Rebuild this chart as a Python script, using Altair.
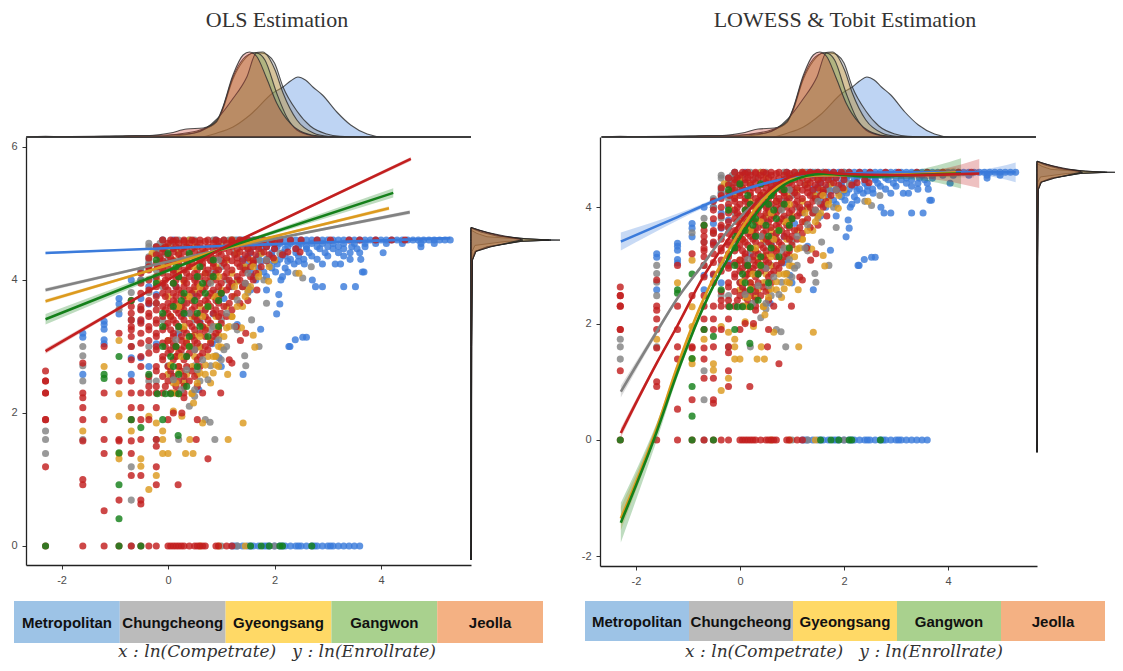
import altair as alt
import pandas as pd

GROUPS = ["Metropolitan", "Chungcheong", "Gyeongsang", "Gangwon", "Jeolla"]
LINE_COLORS = ["#3B7BDB", "#828282", "#DC9A1E", "#14801A", "#C21F1F"]
DENSITY_COLORS = ["#3B7BDB", "#828282", "#DCA028", "#64964A", "#CD3C2D"]
LEGEND_COLORS = ["#9DC3E6", "#BBBBBB", "#FFD966", "#A9D18E", "#F4B183"]

# ---------- scatter points, rows of y -> x values ----------
METRO_ROWS = {
 4.6: [-.1,.1,.4,.9,1.2,1.3,1.4,1.5,1.6,1.7,1.8,1.9,2.0,2.1,2.2,2.3,2.4,2.5,2.6,2.7,2.8,2.9,3.0,3.1,3.2,3.3,3.4,3.5,3.6,3.7,3.8,3.9,4.0,4.1,4.2,4.3,4.4,4.5,4.6,4.7,4.8,4.9,5.0,5.1,5.2,5.3],
 4.55: [1.4,1.7,1.9,2.1,2.3,2.5,2.7,2.9,3.1,3.3,3.5,3.7,3.9,4.1,4.4,4.75,5.0],
 4.5: [-.22,1.6,1.85,2.05,2.25,2.45,2.6,2.8,3.0,3.2,3.45,3.7,4.75],
 4.47: [1.5,1.75,2.0,2.2,2.4,2.6,2.85,3.1,3.3,3.55],
 4.41: [-.22,.2,1.55,1.75,1.95,2.15,2.4,2.65,2.95,3.2,3.42,3.6,4.04],
 4.36: [1.5,1.7,1.95,2.2,2.45,2.7,3.0,3.3],
 4.31: [1.4,1.65,1.85,2.1,2.3,2.55,2.8,3.62,3.42],
 4.28: [1.5,1.75,2.0,2.25,2.45],
 4.24: [-.36,1.6,1.9,2.05,2.37,2.56,2.9,3.14,3.24],
 4.18: [1.45,1.7,1.95,2.2],
 4.12: [-.51,.9,1.55,1.8,2.02,2.25,3.65,3.68],
 4.05: [1.6,1.85,2.15],
 4.0: [-.69,-.51,-.22,1.3,1.65,2.12,2.71],
 3.9: [-.36,.15,1.2,1.5,2.77,2.9,3.3,3.52],
 3.85: [1.55,1.85],
 3.78: [-.22,.5,2.08],
 3.72: [-.92,-.51,1.05],
 3.64: [-.92,-.36,2.1],
 3.49: [-.92,.3,.85,2.04],
 3.38: [-1.2,-.51,.6],
 3.33: [-1.2,1.3],
 3.26: [-1.2,1.74],
 3.2: [-1.6,.2],
 3.14: [-1.6,2.6,2.53],
 3.1: [-1.2,2.39,.9],
 3.04: [-1.2,-.22,.83],
 3.0: [2.29,2.27],
 2.83: [-.69,-.51,.96],
 2.7: [-.36,1.0],
 2.58: [-1.6,-.69,.05,1.41],
 2.35: [.58],
 0: [1.2,1.25,1.3,1.4,1.5,1.55,1.6,1.7,1.8,1.85,1.9,2.0,2.1,2.15,2.2,2.3,2.4,2.45,2.5,2.6,2.7,2.75,2.8,2.9,3.0,3.05,3.1,3.2,3.3,3.4,3.5,3.6],
}
CHUNG_ROWS = {
 4.6: [-.1,.2,.5,.85,1.05,1.15,1.25,1.35,1.45,1.6,2.0],
 4.55: [-.36,-.15,.05,1.0,1.2],
 4.5: [-.36,-.22,-.1,.3,.9,1.7],
 4.45: [-.22,0],
 4.4: [-.22,-.05,.6,1.25,2.1],
 4.35: [-.36,-.15],
 4.3: [-.36,0,.8,1.7],
 4.25: [-.36,-.1],
 4.2: [-.36,.4,1.0,1.4,2.69],
 4.15: [-.51,-.22],
 4.1: [.15,.8,2.4],
 4.03: [.5,2.53],
 4.0: [-.51,.3,1.1,1.8],
 3.9: [-.1,.6,1.4],
 3.81: [-.69,-.36,.9,1.5],
 3.65: [-.22,.3,1.85],
 3.56: [-.92,-.51,.7],
 3.4: [-.69,-.1,.5,1.0,1.57],
 3.25: [.2,.8,1.3],
 3.0: [-1.6,-.69,-.36,.1,.6,1.1,1.71],
 2.86: [-1.6,.3,.9,1.44],
 2.71: [-1.6,0,.5,.8,1.46],
 2.48: [-1.6,-.36,-.22,.3,.6],
 2.25: [.5],
 2.1: [.4],
 1.9: [.7],
 1.86: [.79],
 1.73: [-2.3],
 1.6: [-2.3,-1.6,-.22,.2,.88],
 1.39: [-2.3],
 1.19: [-.69],
 .69: [-.69],
 0: [-.69,1.0,1.3,2.0],
}
CHUNG_ON_TOP = {
 4.3: [.95,1.85],
 4.1: [1.5],
 3.95: [1.45,.8],
 3.7: [1.3],
 3.5: [1.1,.4],
 3.3: [1.25,.85],
 3.1: [.95,.15],
 2.95: [1.05,.5],
 2.8: [.65,1.0],
 2.65: [.55,.35],
 2.5: [.75,.1],
 2.35: [.5,.25],
}
GYEONG_ROWS = {
 4.6: [.4,1.2],
 4.5: [0,.5,1.0,1.5],
 4.4: [-.3,.2,.7,1.3,1.75],
 4.3: [.1,.6,1.1,1.55,2.0],
 4.2: [-.1,.4,.9,1.45,1.9],
 4.1: [.2,.7,1.2,1.7,2.46],
 3.98: [-.2,.3,.8,1.3,1.89],
 3.85: [.5,1.0,1.5],
 3.75: [0,.35,.85,1.25],
 3.6: [.2,.6,1.1,1.4],
 3.45: [.05,.45,.9,1.2],
 3.28: [.25,.7,1.1,1.38],
 3.17: [.5,.95,1.6],
 3.09: [-.92,0,.35,.8],
 2.99: [.15,.6,1.0,1.63],
 2.85: [.15,.5,.75,.9],
 2.7: [-1.2,.2,.45,.95],
 2.58: [0,.35,.55,.7,1.12],
 2.45: [.1,.3,.8],
 2.29: [-.92,.2,.45],
 2.15: [.48],
 2.03: [.1],
 1.95: [-.92,-.36,.26],
 1.85: [-.22,.65,1.41],
 1.73: [-.69,-1.6,-.1],
 1.6: [-.1,.41,1.13],
 1.39: [-.92,-.1,0,.33,.47],
 1.31: [-.92,-.51],
 1.2: [-.51],
 1.06: [-.22],
 .85: [-.36],
 0: [.6,.95,1.45],
}
GYEONG_ON_TOP = {
 4.2: [1.6,.5],
 4.05: [1.7,.95],
 3.9: [1.55,1.25,.6],
 3.75: [1.45,.9,.4],
 3.6: [1.3,.75,.2],
 3.45: [1.2,.65],
 3.3: [1.15,.9,.3],
 3.15: [1.05,.6],
 3.0: [.95,.4],
 2.85: [.85,.25],
 2.72: [.7,.05,.9],
 2.6: [.6,.2,.85],
 2.45: [.55,.15],
 2.3: [.45,.1],
}
JEOLLA_ROWS = {
 4.6: [-.1,.05,.15,.3,.45,.6,.75,.9,1.05,1.2,1.35,1.5,1.65,1.8,1.95,2.1,2.3,2.5,2.8,3.05,3.4,3.6,3.9,4.2,4.45],
 4.58: [.1,.3,.5,.7,.95,1.2,1.45],
 4.55: [0,.2,.4,.6,.85,1.1,1.3,1.55,1.75,2.0],
 4.5: [-.22,-.05,.15,.35,.55,.75,.95,1.2,1.4,1.6,1.85],
 4.47: [-.1,.1,.25,.45,.65,.85,1.05,1.3,1.5,1.7,2.0,2.4],
 4.42: [-.1,.1,.3,.5,.7,.95,1.15,1.35,1.55,1.8,2.25,2.48],
 4.38: [-.22,0,.2,.4,.6,.8,1.0,1.25,1.45,1.65,1.9,2.15],
 4.33: [-.36,-.15,.05,.25,.5,.7,.9,1.1,1.3,1.5,1.98],
 4.29: [-.1,.1,.35,.6,.8,1.0,1.2,1.4,1.6,1.85],
 4.25: [-.22,0,.2,.45,.65,.85,1.05,1.3,1.6],
 4.2: [-.36,-.2,0,.2,.4,.65,.85,1.1,1.35,1.55,1.75],
 4.15: [-.36,-.1,.1,.3,.55,.75,.95,1.2,1.45],
 4.1: [-.51,-.1,.1,.35,.5,.7,.9,1.1,1.4,1.65],
 4.05: [-.22,0,.2,.4,.6,.8,1.05,1.3,1.55],
 4.0: [-.36,-.05,.15,.3,.5,.7,.9,1.15,1.35,1.6],
 3.95: [-.51,-.1,.1,.35,.55,.75,1.0,1.2,1.45],
 3.9: [-.22,-.05,.15,.3,.5,.7,.95,1.15,1.4],
 3.85: [-.36,0,.2,.4,.65,.85,1.1,1.67],
 3.8: [-.51,-.1,.1,.25,.45,.6,.8,1.0,1.3],
 3.75: [-.22,-.05,.15,.3,.55,.75,.95,1.2],
 3.69: [-.69,-.36,.1,.45,.7,.9,1.5],
 3.65: [-.36,-.22,0,.15,.35,.6,.75,.95,1.15,1.35],
 3.6: [-.69,-.51,-.1,.05,.25,.5,.8,1.05],
 3.55: [-.51,-.22,-.05,.15,.3,.45,.7,.9,1.2],
 3.5: [-.69,-.36,0,.2,.4,.6,.85,1.0],
 3.45: [-.36,-.1,.05,.25,.5,.7,.95,1.1],
 3.4: [-.69,-.51,-.22,.1,.3,.55,.75],
 3.35: [-.51,-.22,0,.15,.4,.6,.8,1.0],
 3.3: [-.69,-.36,-.05,.2,.45,.65,1.28],
 3.25: [-.69,-.36,-.1,.05,.3,.5,.7,.95],
 3.2: [-.92,-.51,-.22,.1,.35,.6,.9,1.46],
 3.15: [-.69,-.22,.1,.25,.45,.7,.85],
 3.09: [-.36,0,.25,.5,1.36],
 3.05: [-.51,-.1,.1,.35,.55,.8],
 3.0: [-1.2,-.69,-.22,-.05,.15,.3,.45,.7],
 2.95: [-.22,.05,.25,.5,.75],
 2.9: [-.36,0,.2,.4,.65],
 2.85: [-.51,-.1,.15,.35,.6],
 2.8: [-.69,-.1,.1,.3,.55,1.15],
 2.75: [-1.6,1.2],
 2.7: [-.51,-.22,0,.2,.35,.6],
 2.63: [-2.3,-.22,.05,.25,.45],
 2.55: [-.36,-.1,.1,.3,.5],
 2.48: [-2.3,-2.3,-.92,-.69,0,.2,.4],
 2.4: [-.36,-.22,-.05,.15,.3,.55],
 2.3: [-2.3,-2.3,-1.6,-1.2,-.69,-.51,-.36,-.22,-.1,.05,.15,.3,.65,.99],
 2.23: [-1.6,.3],
 2.08: [-1.6,-.69,-.51,-.22],
 2.0: [.26,.1],
 1.9: [-2.3,-2.3,-1.6,-1.2,-.69,-.51,-.36,.55,0],
 1.6: [-1.2,-.92,-.51,-.22,.53],
 1.58: [-.92,-.69,-1.6],
 1.5: [-.22],
 1.39: [-1.2,-.69],
 1.31: [.75],
 1.19: [-2.3,-.22],
 1.06: [-.69,-.51],
 1.0: [-1.6],
 .92: [-1.6,-.22,.19],
 .69: [-.92,-.51],
 .63: [-.51],
 .53: [-1.2],
 0: [-2.3,-1.6,-1.2,-.92,-.69,-.51,-.36,-.22,0,.05,.1,.15,.2,.25,.3,.4,.5,.55,.6,.65,.7,.9,.95,1.1,1.2],
}
GANGWON_ROWS = {
 4.4: [0,.4],
 4.3: [-.22,.85],
 4.2: [.15,.6],
 4.05: [.2,.55,.85],
 3.95: [-.22,.1,.65],
 3.8: [.3,.7,1.0],
 3.69: [-.69,.25,.5,.95],
 3.6: [.1,.75],
 3.5: [-.1,.55,.3],
 3.3: [-.1,.2,.6,.95],
 3.15: [.4,.75],
 3.0: [-.1,.15,.4],
 2.85: [-.92,.05,.35],
 2.7: [.1,.55],
 2.58: [-1.2,-.36,.2],
 2.52: [-1.2],
 2.4: [.35],
 2.29: [-.2,-.05,.05,.2],
 1.9: [-.69,-.1],
 1.78: [-.51],
 1.66: [.19],
 1.4: [-.92],
 .92: [-.92],
 .41: [-.92],
 0: [-2.3,-.92,-.51,1.55,1.75,1.9,2.1,2.15,2.7],
}

# ---------- marginal densities (x value, height) ----------
TOP_METRO = [(-2.66,0),(.6,0),(.92,4),(1.22,10),(1.54,22),(1.97,44),(2.16,50),(2.3,56),(2.44,60),(2.58,57),(2.72,50),(2.9,42),(3.17,25),(3.43,12),(3.74,3),(4.05,0),(5.69,0)]
TOP_CHUNG = [(-2.66,0),(-.2,0),(.3,2),(.6,6),(.91,15),(1.01,25),(1.22,58),(1.41,76),(1.6,84),(1.75,84),(1.87,82),(2.0,74),(2.16,50),(2.42,26),(2.67,11),(2.98,3),(3.23,.7),(3.6,0),(5.69,0)]
TOP_GYEONG = [(-2.66,0),(-.3,0),(.2,3),(.6,7),(.91,15),(1.01,26),(1.22,60),(1.41,78),(1.6,84),(1.78,85),(2.01,67),(2.16,44),(2.42,17),(2.73,4),(3.0,.7),(3.3,0),(5.69,0)]
TOP_GANGWON = [(-2.66,0),(-1.0,1),(0,2),(.5,4),(.92,18),(1.2,37),(1.48,60),(1.66,84),(1.82,77),(2.04,44),(2.23,20),(2.42,7),(2.7,1.5),(3.0,0),(5.69,0)]
TOP_JEOLLA = [(-2.66,0),(-2.3,.6),(-2.0,.2),(-1.6,.5),(-1.2,.6),(-.9,1),(-.6,1.5),(-.34,1.5),(.04,4),(.35,8),(.66,9),(.91,16),(1.01,27),(1.22,62),(1.41,82),(1.53,85),(1.66,81),(1.85,59),(2.04,34),(2.29,14),(2.48,6),(2.79,1.3),(3.2,0),(5.69,0)]

SIDE_METRO = [(-.21,0),(0,.2),(3.0,.2),(4.43,1),(4.52,4),(4.58,35),(4.6,89),(4.62,45),(4.65,16),(4.7,6),(4.75,0)]
SIDE_CHUNG = [(-.21,0),(0,.4),(3.0,.5),(4.3,1.2),(4.43,4),(4.5,17),(4.58,50),(4.6,80),(4.62,55),(4.66,30),(4.72,15),(4.79,0)]
SIDE_GYEONG = [(-.21,0),(0,.4),(3.0,.5),(4.3,1.2),(4.43,4),(4.5,16),(4.58,50),(4.6,78),(4.62,55),(4.66,26),(4.72,10),(4.78,0)]
SIDE_GANGWON = [(-.21,0),(0,.5),(3.0,.8),(4.3,1.5),(4.43,5),(4.5,20),(4.57,44),(4.6,52),(4.62,46),(4.66,30),(4.71,16),(4.75,7),(4.79,0)]
SIDE_JEOLLA = [(-.21,0),(0,.5),(2.2,.5),(3.7,1),(4.3,1.5),(4.43,5),(4.5,20),(4.576,42),(4.6,50),(4.62,50),(4.66,34),(4.71,18),(4.75,8),(4.79,0)]

# ---------- OLS fits (x, y, half width of the interval) ----------
OLS_METRO = [(-2.3,4.406,.02),(1.0,4.51,.006),(5.3,4.63,.02)]
OLS_CHUNG = [(-2.3,3.85,.03),(1.0,4.46,.01),(4.54,5.02,.03)]
OLS_GYEONG = [(-2.3,3.68,.03),(1.0,4.46,.01),(4.15,5.08,.03)]
OLS_GANGWON = [(-2.3,3.41,.08),(1.0,4.46,.015),(4.23,5.31,.07)]
OLS_JEOLLA = [(-2.3,2.93,.04),(1.0,4.47,.01),(4.56,5.82,.03)]

# ---------- LOWESS fits (x, y, half width of the interval) ----------
LOW_METRO = [(-2.29,3.41,.155),(-1.2,3.83,.06),(-.64,4.05,.04),(0,4.28,.03),(.96,4.5,.02),(1.6,4.55,.02),(3.0,4.6,.02),(4.6,4.6,.05),(5.3,4.6,.17)]
LOW_CHUNG = [(-2.29,.83,.1),(-1.6,1.86,.05),(-1.22,2.41,.03),(-.7,3.03,.03),(-.19,3.64,.02),(.45,4.18,.02),(.96,4.47,.02),(1.6,4.55,.02),(3.0,4.55,.03),(4.5,4.57,.06)]
LOW_GYEONG = [(-2.29,-1.35,.2),(-1.6,.2,.08),(-1.21,1.25,.05),(-.7,2.42,.04),(-.19,3.3,.03),(.32,4.0,.03),(.96,4.47,.02),(1.6,4.55,.02),(2.5,4.55,.03),(4.15,4.6,.08)]
LOW_GANGWON = [(-2.29,-1.42,.34),(-1.6,.14,.15),(-1.21,1.14,.08),(-.7,2.29,.06),(-.19,3.18,.04),(.32,3.9,.04),(.96,4.44,.03),(1.6,4.57,.03),(2.5,4.53,.04),(3.0,4.54,.05),(3.8,4.57,.15),(4.25,4.58,.26)]
LOW_JEOLLA = [(-2.29,.12,.08),(-1.6,1.32,.04),(-1.21,1.95,.03),(-.7,2.81,.03),(-.19,3.49,.02),(.32,4.09,.02),(.96,4.52,.02),(1.47,4.61,.02),(2.0,4.57,.02),(3.0,4.55,.03),(3.9,4.56,.1),(4.6,4.58,.25)]

LEGEND_NAMES = GROUPS
TITLE_A = "OLS Estimation"
TITLE_B = "LOWESS & Tobit Estimation"
CAPTION = "x : ln(Competrate)\u00a0\u00a0\u00a0y : ln(Enrollrate)"

# ---------- tables ----------
def rows_table(pairs):
    out = []
    for g, rows in pairs:
        for y, xs in rows.items():
            for x in xs:
                out.append({"g": g, "x": x, "y": y})
    return pd.DataFrame(out)

def xy_table(pairs, a="x", b="h"):
    return pd.DataFrame([{"g": g, a: p, b: q} for g, s in pairs for p, q in s])

def fit_table(pairs):
    return pd.DataFrame([{"g": g, "x": x, "y": y, "lo": y - w, "hi": y + w} for g, s in pairs for x, y, w in s])

POINTS = rows_table([(GROUPS[0], METRO_ROWS), (GROUPS[1], CHUNG_ROWS), (GROUPS[2], GYEONG_ROWS), (GROUPS[4], JEOLLA_ROWS),
                     (GROUPS[2], GYEONG_ON_TOP), (GROUPS[1], CHUNG_ON_TOP), (GROUPS[3], GANGWON_ROWS)])
TOP = xy_table(zip(GROUPS, [TOP_METRO, TOP_CHUNG, TOP_GYEONG, TOP_GANGWON, TOP_JEOLLA]))
SIDE = xy_table(zip(GROUPS, [SIDE_METRO, SIDE_CHUNG, SIDE_GYEONG, SIDE_GANGWON, SIDE_JEOLLA]), "y", "h")
OLS = fit_table(zip(GROUPS, [OLS_METRO, OLS_CHUNG, OLS_GYEONG, OLS_GANGWON, OLS_JEOLLA]))
LOW = fit_table(zip(GROUPS, [LOW_METRO, LOW_CHUNG, LOW_GYEONG, LOW_GANGWON, LOW_JEOLLA]))
LEG = pd.DataFrame({"name": LEGEND_NAMES, "fill": LEGEND_COLORS})

W, H = 1107, 653
color = alt.Scale(domain=GROUPS, range=LINE_COLORS)
dens_color = alt.Scale(domain=GROUPS, range=DENSITY_COLORS)
MINUS_FIX = "'' + datum.value"

def panel(xdom, ydom, px, py, fits, title, tx, side_w, leg_x, leg_y, cap_x, ticks_y, interp, top_y=(129, 29)):
    x_s = alt.Scale(domain=xdom, range=list(px), nice=False, zero=False)
    y_s = alt.Scale(domain=ydom, range=list(py), nice=False, zero=False)
    ty_s = alt.Scale(domain=[0, 100], range=list(top_y), nice=False, zero=False)
    sx_s = alt.Scale(domain=[0, 89], range=[px[1], px[1] + side_w], nice=False, zero=False)
    lx_s = alt.Scale(domain=LEGEND_NAMES, range=list(leg_x), paddingInner=0, paddingOuter=0)

    ax = dict(domainColor="#222222", domainWidth=1.3, tickColor="#333333", tickSize=4, tickWidth=1,
              labelColor="#4D4D4D", labelFontSize=11, labelFont="Liberation Sans", grid=False, title=None,
              labelPadding=5, labelExpr=MINUS_FIX)

    layers = []
    layers.append(alt.Chart(TOP).mark_area(interpolate="monotone", fillOpacity=.33, stroke="#333333", strokeWidth=1.1, strokeOpacity=.85).encode(
        x=alt.X("x:Q", scale=x_s, axis=None),
        y=alt.Y("h:Q", scale=ty_s, axis=None, stack=None),
        fill=alt.Fill("g:N", scale=dens_color, legend=None)))
    layers.append(alt.Chart(SIDE).mark_area(orient="horizontal", fillOpacity=.33, stroke="#222222", strokeWidth=1, strokeOpacity=.8).encode(
        x=alt.X("h:Q", scale=sx_s, axis=None, stack=None),
        y=alt.Y("y:Q", scale=y_s, axis=None),
        fill=alt.Fill("g:N", scale=dens_color, legend=None)))
    layers.append(alt.Chart(POINTS).mark_circle(size=50, opacity=.82).encode(
        x=alt.X("x:Q", scale=x_s, axis=alt.Axis(values=[-2, 0, 2, 4], orient="bottom", offset=-(H - py[0]), **ax)),
        y=alt.Y("y:Q", scale=y_s, axis=alt.Axis(values=ticks_y, orient="left", offset=-px[0], **ax)),
        color=alt.Color("g:N", scale=color, legend=None)))
    layers.append(alt.Chart(fits).mark_area(interpolate=interp, opacity=.28).encode(
        x=alt.X("x:Q", scale=x_s, axis=None),
        y=alt.Y("lo:Q", scale=y_s, axis=None),
        y2="hi:Q",
        fill=alt.Fill("g:N", scale=color, legend=None)))
    layers.append(alt.Chart(fits).mark_line(interpolate=interp, strokeWidth=2.6).encode(
        x=alt.X("x:Q", scale=x_s, axis=None),
        y=alt.Y("y:Q", scale=y_s, axis=None),
        color=alt.Color("g:N", scale=color, legend=None)))
    layers.append(alt.Chart(LEG).mark_rect().encode(
        x=alt.X("name:N", scale=lx_s, axis=None, sort=LEGEND_NAMES),
        y=alt.value(leg_y[0]), y2=alt.value(leg_y[1]),
        fill=alt.Fill("fill:N", scale=None)))
    layers.append(alt.Chart(LEG).mark_text(font="Liberation Sans", fontWeight="bold", fontSize=15, color="#111111").encode(
        x=alt.X("name:N", scale=lx_s, axis=None, sort=LEGEND_NAMES),
        y=alt.value((leg_y[0] + leg_y[1]) / 2 + 1),
        text="name:N"))
    layers.append(alt.Chart(pd.DataFrame({"t": [title]})).mark_text(font="Liberation Serif", fontSize=22, color="#333333").encode(
        x=alt.value(tx), y=alt.value(12), text="t:N"))
    layers.append(alt.Chart(pd.DataFrame({"t": [CAPTION]})).mark_text(font="DejaVu Serif", fontStyle="italic", fontSize=17, color="#333333").encode(
        x=alt.value(cap_x), y=alt.value(644), text="t:N"))
    return layers

left = panel([-2.667, 5.69], [-.286, 6.15], (18, 463), (557, 129), OLS, TITLE_A, 269, 89,
             (6, 535), (593, 635), 269, [0, 2, 4, 6], "linear")
right = panel([-2.69, 5.71], [-2.165, 5.206], (592, 1029), (558, 129), LOW, TITLE_B, 837, 78,
              (577, 1097), (593, 633), 836, [-2, 0, 2, 4], "monotone")

chart = alt.layer(*(left + right)).resolve_scale(x="independent", y="independent", color="shared", fill="independent").properties(
    width=W, height=H, padding=0, autosize=alt.AutoSizeParams(type="none")
).configure_view(strokeWidth=0)

chart.save("out.html", embed_options={"renderer": "svg", "actions": False})
